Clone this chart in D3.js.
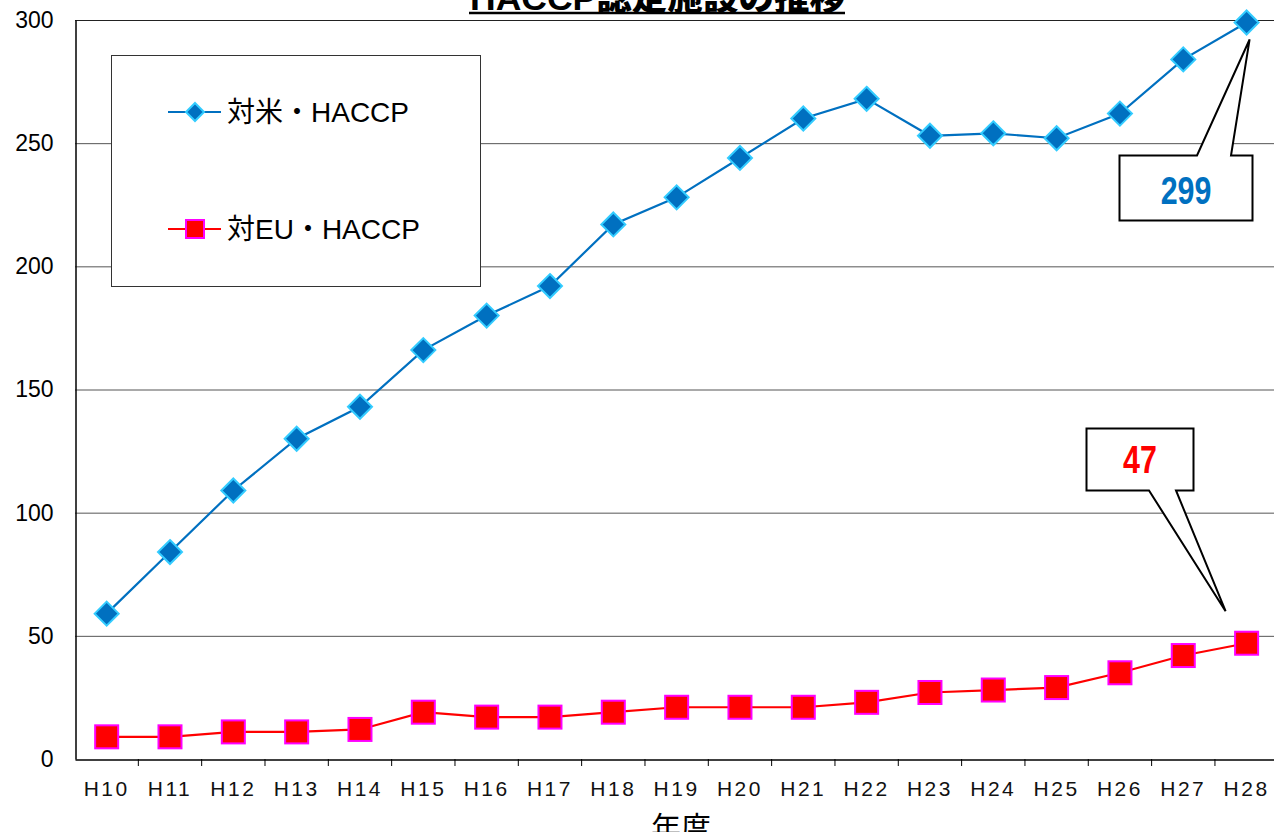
<!DOCTYPE html>
<html><head><meta charset="utf-8">
<script src="https://cdn.jsdelivr.net/npm/d3@7"></script>
<style>body{margin:0;background:#fff;}svg{display:block;}</style>
</head><body>
<script>
const categories = ["H10","H11","H12","H13","H14","H15","H16","H17","H18","H19","H20","H21","H22","H23","H24","H25","H26","H27","H28"];
const usValues = [59,84,109,130,143,166,180,192,217,228,244,260,268,253,254,252,262,284,299];
const euValues = [9,9,11,11,12,19,17,17,19,21,21,21,23,27,28,29,35,42,47];
const yTicks = [0,50,100,150,200,250,300];
const seriesNames = ["対米・HACCP","対EU・HACCP"];
const title = "HACCP認定施設の推移";
const xTitle = "年度";

(function(){
const W=1274,H=832;
const svg=d3.select("body").append("svg").attr("width",W).attr("height",H);
const pl=75, pt=20, pb=759, bandW=63.33;
const x=d3.scaleBand().domain(categories).range([pl,pl+bandW*categories.length]).padding(0);
const y=d3.scaleLinear().domain([0,300]).range([pb,pt]);
const cx=d=>x(d)+x.bandwidth()/2;
const latin="'Liberation Sans',Arial,'Noto Sans CJK JP',sans-serif";

// title (cut off at the top edge as in the reference)
svg.append("text").attr("x",470).attr("y",10)
 .attr("font-family","'Liberation Sans','Noto Sans CJK JP',sans-serif").attr("font-weight","900").attr("font-size",34)
 .attr("textLength",375).attr("lengthAdjust","spacingAndGlyphs").text(title);
svg.append("line").attr("x1",469).attr("x2",845).attr("y1",13).attr("y2",13).attr("stroke","#000").attr("stroke-width",2.5);

// gridlines
svg.append("g").selectAll("line").data(yTicks.filter(v=>v>0)).join("line")
 .attr("x1",pl).attr("x2",W).attr("y1",d=>y(d)+0.5).attr("y2",d=>y(d)+0.5)
 .attr("stroke",d=>d===300?"#222":"#555").attr("stroke-width",1);

// y axis
const ya=svg.append("g").attr("transform",`translate(${pl+0.5},0)`)
 .call(d3.axisLeft(y).tickValues(yTicks).tickSize(0).tickPadding(22));
ya.select(".domain").attr("stroke","#000").attr("stroke-width",1.5);
ya.selectAll("text").attr("font-family",latin).attr("font-size",23).attr("fill","#000");

// x axis
const xa=svg.append("g").attr("transform",`translate(0,${pb+0.5})`)
 .call(d3.axisBottom(x).tickSize(0).tickPadding(22));
xa.select(".domain").attr("stroke","#000").attr("stroke-width",1.5);
xa.selectAll("text").attr("font-family",latin).attr("font-size",21)
 .attr("letter-spacing","2.5px").attr("fill","#111");
svg.append("g").selectAll("line").data(categories.slice(1)).join("line")
 .attr("x1",d=>x(d)).attr("x2",d=>x(d)).attr("y1",pb).attr("y2",pb+7)
 .attr("stroke","#000").attr("stroke-width",1);

svg.append("text").attr("x",681).attr("y",838).attr("text-anchor","middle")
 .attr("font-family","'Noto Sans CJK JP',sans-serif").attr("font-size",30).text(xTitle);

// lines
const line=d3.line().x((d,i)=>cx(categories[i])).y(d=>y(d));
svg.append("path").datum(usValues).attr("d",line).attr("fill","none").attr("stroke","#0070C0").attr("stroke-width",2.2);
svg.append("path").datum(euValues).attr("d",line).attr("fill","none").attr("stroke","#FF0000").attr("stroke-width",2.2);

const diamond=(g,px,py,s)=>g.append("path").attr("d",`M${px},${py-s}L${px+s},${py}L${px},${py+s}L${px-s},${py}Z`)
 .attr("fill","#0070C0").attr("stroke","#33CCFF").attr("stroke-width",2);
const square=(g,px,py,s)=>g.append("rect").attr("x",px-s).attr("y",py-s).attr("width",2*s).attr("height",2*s)
 .attr("fill","#FF0000").attr("stroke","#FF00FF").attr("stroke-width",2);

const mg=svg.append("g");
usValues.forEach((v,i)=>diamond(mg,cx(categories[i]),y(v),12));
euValues.forEach((v,i)=>square(mg,cx(categories[i]),y(v),11.5));

// legend
svg.append("rect").attr("x",111.5).attr("y",55.5).attr("width",369).attr("height",231)
 .attr("fill","#fff").attr("stroke","#333").attr("stroke-width",1);
const lg=svg.append("g");
[[112,"#0070C0"],[229,"#FF0000"]].forEach(([ly,c],i)=>{
  lg.append("line").attr("x1",168).attr("x2",221).attr("y1",ly).attr("y2",ly).attr("stroke",c).attr("stroke-width",2);
  if(i===0) diamond(lg,195,ly,9); else square(lg,195,ly,9);
  lg.append("text").attr("x",227).attr("y",ly+10).attr("font-family",latin)
   .attr("font-size",28).attr("fill","#000").text(seriesNames[i]);
});

// callouts
function callout(bx,by,bw,bh,p1,p2,tip,fromTop,label,color,dy){
  let d;
  if(fromTop){
    d=`M${bx},${by}L${p1},${by}L${tip[0]},${tip[1]}L${p2},${by}L${bx+bw},${by}L${bx+bw},${by+bh}L${bx},${by+bh}Z`;
  } else {
    d=`M${bx},${by}L${bx+bw},${by}L${bx+bw},${by+bh}L${p2},${by+bh}L${tip[0]},${tip[1]}L${p1},${by+bh}L${bx},${by+bh}Z`;
  }
  svg.append("path").attr("d",d).attr("fill","#fff").attr("stroke","#000").attr("stroke-width",2).attr("stroke-linejoin","miter");
  const tx=bx+bw/2, ty=by+bh/2+dy;
  svg.append("text").attr("transform",`translate(${tx},${ty}) scale(0.8,1)`).attr("text-anchor","middle")
   .attr("font-family","'Liberation Sans Narrow','Liberation Sans',Arial,sans-serif").attr("font-weight","bold")
   .attr("font-size",38).attr("fill",color).text(label);
}
const last=categories.length-1;
callout(1119.5,155.5,133,65,1197,1231,[cx(categories[last])+3,y(usValues[last])+17],true,String(usValues[last]),"#0070C0",16);
callout(1086.5,428.5,107,62,1149,1176,[cx(categories[last])-21,y(euValues[last])-32],false,String(euValues[last]),"#FF0000",13);
})();
</script>
</body></html>
